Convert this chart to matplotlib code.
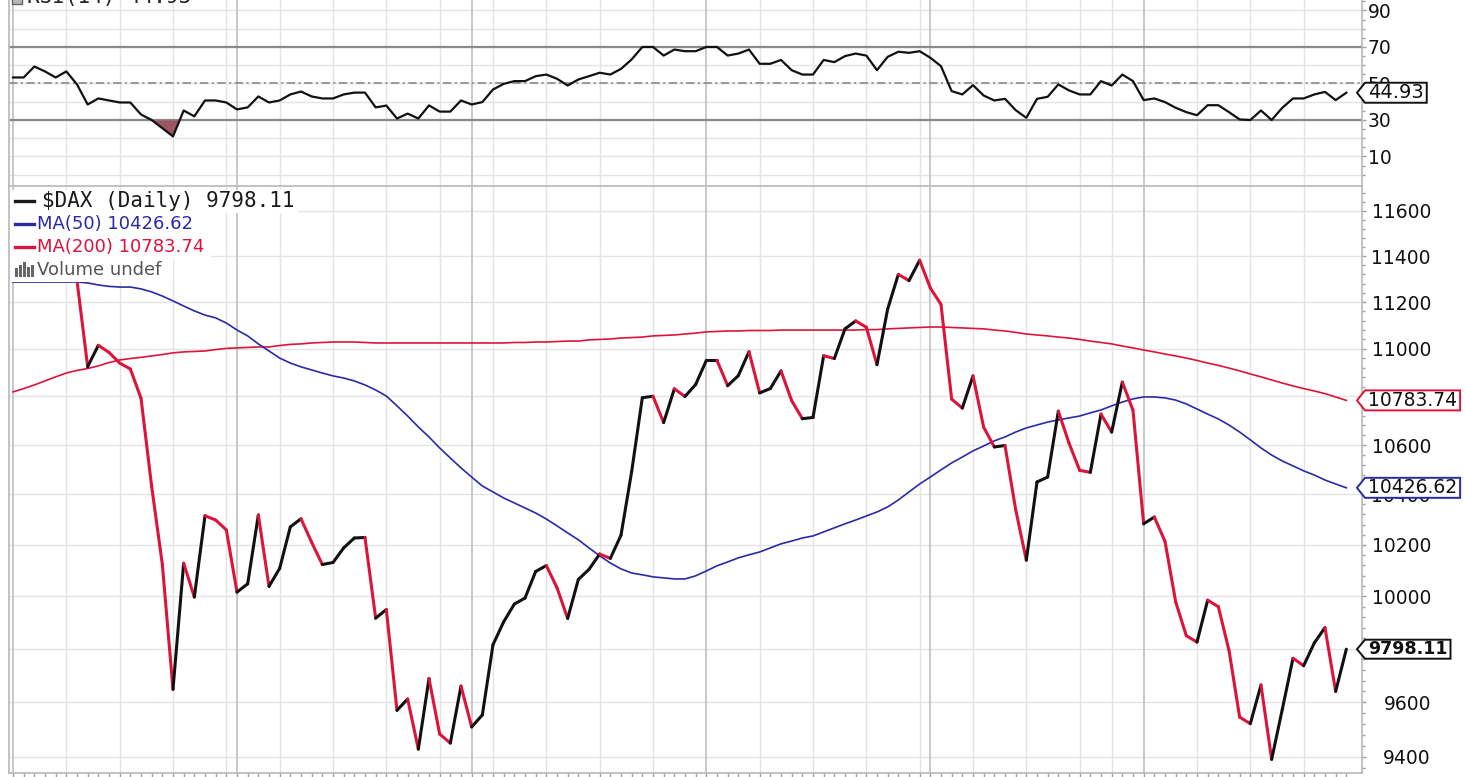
import numpy as np
import pandas as pd
import matplotlib
matplotlib.use("Agg")
import matplotlib.pyplot as plt
from matplotlib.collections import LineCollection
from matplotlib.path import Path
from matplotlib.patches import Rectangle
from matplotlib.lines import Line2D
from matplotlib.ticker import FixedLocator, NullFormatter, FuncFormatter

# ---------------- data ----------------
holidays = ['2015-12-24', '2015-12-25', '2015-12-31', '2016-01-01']
dates = [d for d in pd.bdate_range('2015-08-03', '2016-01-29')
         if d.strftime('%Y-%m-%d') not in holidays]

close = [11444, 11456, 11636, 11585, 11490, 11604, 11293, 10925, 11015, 10985,
         10940, 10915, 10793, 10432, 10124, 9648, 10128, 9997, 10315, 10298,
         10259, 10016, 10048, 10318, 10038, 10108, 10271, 10303, 10210, 10123,
         10131, 10188, 10227, 10229, 9916, 9949, 9570, 9612, 9428, 9688,
         9483, 9450, 9660, 9509, 9553, 9815, 9902, 9970, 9993, 10096,
         10119, 10033, 9915, 10065, 10104, 10164, 10147, 10238, 10492, 10795,
         10801, 10692, 10832, 10800, 10850, 10951, 10951, 10845, 10887, 10988,
         10815, 10833, 10907, 10783, 10708, 10713, 10971, 10959, 11085, 11119,
         11092, 10933, 11170, 11320, 11293, 11382, 11261, 11190, 10789, 10752,
         10886, 10673, 10592, 10598, 10340, 10140, 10450, 10470, 10739, 10608,
         10497, 10489, 10727, 10653, 10860, 10743, 10283, 10310, 10214, 9979,
         9849, 9825, 9985, 9960, 9794, 9545, 9521, 9664, 9391, 9574,
         9764, 9736, 9822, 9880, 9640, 9798.11]

rsi = [53.3, 53.3, 59.3, 56.6, 53.3, 56.6, 49.5, 38.5, 41.8, 40.7,
       39.6, 39.6, 33.0, 30.0, 25.5, 21.0, 35.2, 32.0, 40.7, 40.7,
       39.6, 35.8, 36.9, 42.9, 39.6, 40.7, 44.0, 45.6, 42.9, 41.8,
       41.8, 44.0, 45.0, 45.0, 36.9, 37.9, 30.8, 33.5, 30.8, 38.0,
       34.6, 34.6, 40.7, 38.5, 39.8, 46.7, 49.8, 51.3, 51.3, 54.0,
       54.9, 52.6, 48.9, 52.2, 54.0, 55.9, 54.9, 58.0, 63.2, 70.0,
       70.0, 65.3, 68.6, 67.7, 67.7, 70.0, 70.0, 65.3, 66.4, 68.6,
       60.8, 60.8, 62.9, 57.3, 54.9, 54.9, 62.9, 61.7, 65.0, 66.4,
       65.3, 57.3, 64.6, 67.4, 66.8, 67.7, 64.1, 59.5, 45.8, 44.0,
       49.1, 43.4, 40.7, 41.6, 35.4, 31.2, 41.6, 42.7, 49.5, 46.2,
       44.0, 44.0, 51.3, 48.9, 54.9, 51.3, 40.9, 41.8, 39.8, 36.7,
       34.3, 32.6, 38.1, 38.1, 34.3, 30.3, 30.0, 35.2, 30.0, 36.7,
       41.8, 41.8, 44.0, 45.4, 40.9, 44.93]

ma50 = [11287, 11287, 11287, 11287, 11287, 11287, 11287, 11283, 11274, 11268,
        11265, 11265, 11257, 11244, 11226, 11205, 11183, 11162, 11144, 11132,
        11110, 11080, 11055, 11021, 10991, 10961, 10940, 10924, 10911, 10898,
        10886, 10877, 10865, 10848, 10827, 10802, 10761, 10719, 10674, 10633,
        10588, 10547, 10507, 10470, 10434, 10410, 10386, 10366, 10346, 10326,
        10302, 10275, 10247, 10220, 10188, 10157, 10129, 10106, 10090, 10083,
        10075, 10071, 10067, 10067, 10079, 10098, 10118, 10133, 10149, 10161,
        10172, 10188, 10204, 10215, 10227, 10235, 10251, 10267, 10283, 10298,
        10314, 10330, 10350, 10378, 10410, 10442, 10470, 10499, 10527, 10551,
        10576, 10596, 10617, 10633, 10653, 10670, 10682, 10694, 10703, 10711,
        10719, 10732, 10744, 10761, 10777, 10790, 10798, 10798, 10794, 10785,
        10769, 10748, 10727, 10707, 10682, 10653, 10621, 10588, 10559, 10535,
        10515, 10495, 10478, 10458, 10442, 10426.62]

ma200 = [10819, 10833, 10848, 10865, 10882, 10898, 10909, 10917, 10928, 10942,
         10953, 10959, 10964, 10970, 10976, 10983, 10987, 10989, 10991, 10997,
         11002, 11004, 11006, 11008, 11008, 11014, 11019, 11021, 11025, 11027,
         11029, 11029, 11029, 11027, 11025, 11025, 11025, 11025, 11025, 11025,
         11025, 11025, 11025, 11025, 11025, 11025, 11025, 11027, 11027, 11029,
         11029, 11031, 11033, 11033, 11038, 11040, 11042, 11046, 11048, 11050,
         11055, 11057, 11059, 11063, 11067, 11072, 11074, 11076, 11076, 11078,
         11078, 11078, 11080, 11080, 11080, 11080, 11080, 11080, 11080, 11080,
         11082, 11082, 11085, 11087, 11089, 11091, 11093, 11093, 11091, 11089,
         11087, 11085, 11080, 11076, 11070, 11063, 11059, 11055, 11050, 11046,
         11040, 11033, 11027, 11021, 11012, 11004, 10995, 10987, 10978, 10970,
         10961, 10951, 10940, 10930, 10919, 10907, 10894, 10882, 10869, 10856,
         10844, 10833, 10823, 10812, 10798, 10783.74]

price_ticks = list(range(9400, 11601, 200))
rsi_ticks = [10, 30, 50, 70, 90]

# ---------------- style ----------------
W, H = 1465, 777
BLACK = '#111111'
RED = '#dc143c'
BLUE = '#2a2aa8'
GRID = '#e4e4e4'
GRID_M = '#c4c4c4'
SPINE = '#b8b8b8'
TICKC = '#a0a0a0'
FILL = '#9c5563'
plt.rcParams['font.family'] = ['DejaVu Sans']
plt.rcParams['lines.scale_dashes'] = False

fig = plt.figure(figsize=(W / 100, H / 100), dpi=100)
ax_r = fig.add_axes([9 / W, 1 - 186 / H, 1353 / W, 186 / H])
ax = fig.add_axes([9 / W, 1 - 773 / H, 1353 / W, 586 / H])

n = len(close)
x = np.arange(n)
xlim = (-0.375, 126.47)

mondays = [i for i, d in enumerate(dates) if d.weekday() == 0]
month_starts = [i for i in range(n) if i == 0 or dates[i].month != dates[i - 1].month]

for a in (ax, ax_r):
    a.set_xlim(*xlim)
    for i in mondays:
        if i not in month_starts:
            a.axvline(i, color=GRID, lw=1.0, zorder=0.5)
    for i in month_starts:
        a.axvline(i, color=GRID_M, lw=1.3, zorder=0.6)
    for s in a.spines.values():
        s.set_color(SPINE)
        s.set_linewidth(1.2)

# ---------------- RSI panel ----------------
ax_r.set_ylim(-6.17, 95.75)
for v in range(0, 100, 10):
    ax_r.axhline(v, color=GRID, lw=1.0, zorder=0.5)
ax_r.axhline(70, color='#8a8a8a', lw=1.6, zorder=1)
ax_r.axhline(30, color='#8a8a8a', lw=1.6, zorder=1)
ax_r.axhline(50, color='#8a8a8a', lw=1.2, zorder=1, dashes=(6, 2.5, 1.5, 2.5))
rsi_arr = np.array(rsi)
ax_r.fill_between(x, rsi_arr, 30, where=rsi_arr < 30, interpolate=True,
                  color=FILL, lw=0, zorder=2)
ax_r.plot(x, rsi_arr, color=BLACK, lw=1.6, zorder=3, solid_joinstyle='round')
ax_r.yaxis.tick_right()
ax_r.yaxis.set_major_locator(FixedLocator(rsi_ticks))
ax_r.yaxis.set_minor_locator(FixedLocator([v for v in range(0, 96, 5) if v not in rsi_ticks]))
ax_r.tick_params(axis='y', which='major', direction='out', length=3, width=1,
                 color=TICKC, pad=1.3, labelsize=13.5, labelcolor='#111111')
ax_r.tick_params(axis='y', which='minor', direction='out', length=1.8, width=1, color=TICKC)
ax_r.tick_params(axis='x', which='both', bottom=False, labelbottom=False)
ax_r.spines['top'].set_visible(False)
ax.spines['top'].set_visible(False)

# ---------------- price panel ----------------
ax.set_yscale('log')
ax.set_ylim(9341.8, 11707.7)
for p in price_ticks:
    ax.axhline(p, color=GRID, lw=1.0, zorder=0.5)

ax.plot(x, ma200, color=RED, lw=1.2, zorder=3)
ax.plot(x, ma50, color=BLUE, lw=1.2, zorder=3)

pts = np.column_stack([x, close])
segs = np.stack([pts[:-1], pts[1:]], axis=1)
cols = [RED if c1 < c0 else BLACK for c0, c1 in zip(close[:-1], close[1:])]
lc = LineCollection(segs, colors=cols, linewidths=2.2, capstyle='round',
                    joinstyle='round', zorder=5)
ax.add_collection(lc)

ax.yaxis.tick_right()
ax.yaxis.set_major_locator(FixedLocator(price_ticks))
ax.yaxis.set_major_formatter(FuncFormatter(lambda v, p: f'{v:.0f}'))
ax.yaxis.set_minor_locator(FixedLocator([v for v in range(9360, 11720, 40) if v not in price_ticks]))
ax.yaxis.set_minor_formatter(NullFormatter())
ax.tick_params(axis='y', which='major', direction='out', length=3, width=1,
               color=TICKC, pad=46.6, labelsize=13.5, labelcolor='#111111')
ax.tick_params(axis='y', which='minor', direction='out', length=1.8, width=1, color=TICKC)
for lbl in ax.get_yticklabels():
    lbl.set_horizontalalignment('right')
ax.set_xticks(x)
ax.tick_params(axis='x', which='major', direction='out', length=3, width=1,
               color=TICKC, labelbottom=False)


# ---------------- last-value tags ----------------
def tag_box(x0, y0, width, height, mutation_size):
    padl, padr, tip = 3, 3, 8
    xl, xr = x0 - padl, x0 + width + padr
    yb, yt = y0 - 0.5, y0 + height + 0.5
    ym = 0.5 * (yb + yt)
    return Path([(xl - tip, ym), (xl, yb), (xr, yb), (xr, yt), (xl, yt), (xl - tip, ym)],
                closed=True)


def tag(a, val, text, ec, size=13.5, weight='normal'):
    a.annotate(text, xy=(1, val), xycoords=('axes fraction', 'data'),
               xytext=(6, 0), textcoords='offset pixels', ha='left', va='center',
               fontsize=size, fontweight=weight, color='#111111',
               bbox=dict(boxstyle=tag_box, fc='white', ec=ec, lw=1.4),
               annotation_clip=False, zorder=20)


tag(ax, ma200[-1], f'{ma200[-1]:.2f}', RED)
tag(ax, ma50[-1], f'{ma50[-1]:.2f}', BLUE)
tag(ax, close[-1], f'{close[-1]:.2f}', '#111111', size=12.6, weight='bold')
tag(ax_r, rsi[-1], f'{rsi[-1]:.2f}', '#111111', size=14)

# ---------------- legend rows ----------------
rows = [
    (f'$DAX (Daily) {close[-1]:.2f}', 201, '#1a1a1a', 'DejaVu Sans Mono', 15, 298),
    (f'MA(50) {ma50[-1]:.2f}', 224, BLUE, 'DejaVu Sans', 13, 197),
    (f'MA(200) {ma200[-1]:.2f}', 247, RED, 'DejaVu Sans', 13, 211),
    ('Volume undef', 270, '#555555', 'DejaVu Sans', 13, 173),
]
for k, (txt, yc, col, fam, fs, xr) in enumerate(rows):
    fig.add_artist(Rectangle((10 / W, 1 - (yc + 11.5) / H), (xr - 10) / W, 23 / H,
                             transform=fig.transFigure, fc='white', ec='none', zorder=10))
    tx = 42 if k == 0 else 37
    fig.text(tx / W, 1 - yc / H, txt, color=col, family=fam, fontsize=fs,
             ha='left', va='center', parse_math=False, zorder=11)
    if k < 3:
        fig.add_artist(Line2D([15 / W, 34 / W], [1 - yc / H] * 2, color=col, lw=2.4,
                              transform=fig.transFigure, zorder=12))
# volume icon
for bx, bh in [(15, 9), (19, 12), (23, 15), (27, 10), (31, 12)]:
    fig.add_artist(Rectangle((bx / W, 1 - 277 / H), 3 / W, bh / H, transform=fig.transFigure,
                             fc='#666666', ec='none', zorder=12))

# RSI title, clipped by the top edge
fig.add_artist(Rectangle((12 / W, 1 - 4 / H), 10 / W, 10 / H, transform=fig.transFigure,
                         fc='#b8b8b8', ec='#666666', lw=1, zorder=12))
fig.text(27 / W, 1 - 3 / H, f'RSI(14) {rsi[-1]:.2f}', family='DejaVu Sans Mono', fontsize=15,
         color='#222222', ha='left', va='baseline', zorder=12)

fig.savefig('out.png', dpi=100)
